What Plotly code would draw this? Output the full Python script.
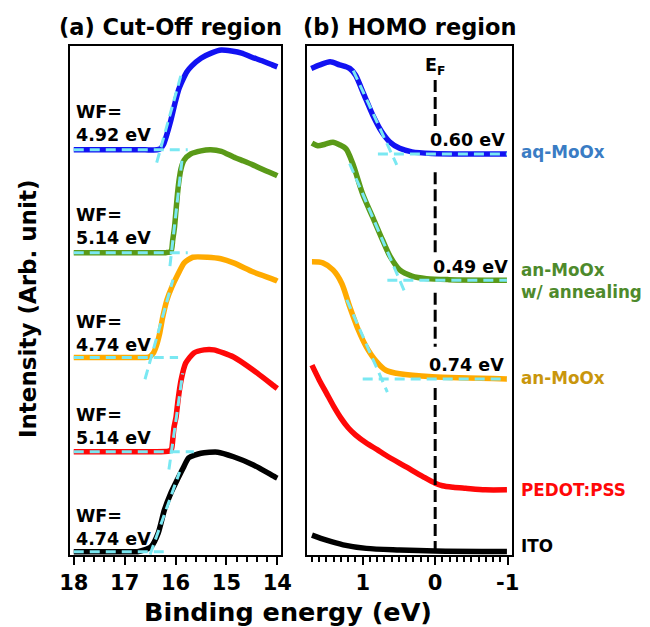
import plotly.graph_objects as go

# ---------------- samples (stacked top to bottom) ----------------
samples = ["aq-MoOx", "an-MoOx<br>w/ annealing", "an-MoOx", "PEDOT:PSS", "ITO"]
line_colors = ["#1212f2", "#5a9a18", "#ffaa00", "#ff0808", "#000000"]
label_colors = ["#3a7cc4", "#4e8a2c", "#c9960c", "#ff0808", "#000000"]
fit_color = "#7ae8f2"

HE_I = 21.22                                  # photon energy (eV)
work_function = [4.92, 5.14, 4.74, 5.14, 4.74]
homo_onset = [0.60, 0.49, 0.74]

# ---------------- (a) secondary-electron cut-off (offset intensity) ----------------
cut_x_aq = [18.0, 17.5, 17.0, 16.6, 16.36, 16.30, 16.24, 16.18, 16.10, 16.02, 15.94, 15.86,
            15.78, 15.68, 15.50, 15.30, 15.10, 14.90, 14.70, 14.50, 14.30, 14.10, 14.00]
cut_y_aq = [79.6, 79.6, 79.6, 79.6, 79.6, 79.8, 80.6, 82.3, 85.1, 88.4, 91.4, 93.3,
            94.9, 96.1, 97.6, 98.6, 99.2, 99.0, 98.6, 97.8, 97.1, 96.3, 95.9]

cut_x_ann = [18.0, 17.5, 17.0, 16.5, 16.19, 16.09, 16.055, 16.02, 15.99, 15.96, 15.93, 15.89,
             15.83, 15.70, 15.50, 15.31, 15.10, 14.86, 14.66, 14.47, 14.25, 14.04, 14.00]
cut_y_ann = [59.4, 59.4, 59.4, 59.4, 59.4, 59.6, 61.9, 64.4, 67.8, 71.1, 73.7, 76.0,
             77.6, 78.8, 79.4, 79.6, 79.3, 78.2, 77.4, 76.6, 75.6, 74.7, 74.5]

cut_x_an = [18.0, 17.5, 17.0, 16.7, 16.52, 16.44, 16.38, 16.31, 16.25, 16.17, 16.07, 15.96,
            15.83, 15.66, 15.37, 15.11, 14.86, 14.47, 14.04, 14.00]
cut_y_an = [38.8, 38.8, 38.8, 38.8, 38.9, 39.6, 41.0, 43.6, 46.8, 50.1, 52.7, 55.0,
            57.4, 58.5, 58.5, 58.2, 57.4, 55.6, 54.0, 53.8]

cut_x_pedot = [18.0, 17.5, 17.0, 16.5, 16.13, 16.08, 16.05, 16.03, 15.99, 15.95, 15.89, 15.80,
               15.64, 15.44, 15.25, 14.86, 14.47, 14.04, 14.00]
cut_y_pedot = [20.3, 20.3, 20.3, 20.3, 20.4, 20.8, 23.2, 25.1, 27.1, 30.5, 34.4, 37.7,
               39.7, 40.3, 40.3, 38.9, 36.3, 33.0, 32.7]

cut_x_ito = [18.0, 17.5, 17.0, 16.75, 16.61, 16.48, 16.34, 16.22, 16.09, 15.95, 15.85, 15.74,
             15.50, 15.17, 14.86, 14.47, 14.04, 14.00]
cut_y_ito = [0.65, 0.65, 0.65, 0.65, 1.0, 1.6, 4.3, 8.8, 12.2, 15.1, 17.1, 19.1,
             20.0, 20.2, 19.3, 17.7, 15.3, 15.1]

cut_x = [cut_x_aq, cut_x_ann, cut_x_an, cut_x_pedot, cut_x_ito]
cut_y = [cut_y_aq, cut_y_ann, cut_y_an, cut_y_pedot, cut_y_ito]

# linear fits of the cut-off edge: slope (a.u./eV), span of tangent, end of baseline fit
cut_fit_slope = [36.0, 88.0, 35.6, 70.0, 28.0]
cut_fit_span = [(16.37, 15.88), (16.11, 15.87), (16.60, 16.05), (16.13, 15.86), (16.50, 15.92)]
cut_base_end = [15.76, 15.76, 15.95, 15.64, 16.13]

# ---------------- (b) HOMO region (offset intensity) ----------------
homo_x_aq = [1.71, 1.59, 1.45, 1.32, 1.18, 1.10, 0.99, 0.86, 0.74, 0.63, 0.49, 0.32, 0.04, -0.50, -0.99]
homo_y_aq = [95.6, 96.3, 96.9, 96.3, 95.6, 94.3, 90.7, 86.4, 83.2, 81.2, 79.9, 79.2, 78.9, 78.8, 78.8]

homo_x_ann = [1.70, 1.62, 1.52, 1.41, 1.32, 1.23, 1.14, 1.00, 0.86, 0.73, 0.62, 0.49, 0.32, 0.12, -0.19, -0.99]
homo_y_ann = [80.9, 80.4, 80.7, 81.1, 80.6, 79.8, 77.0, 70.9, 66.3, 62.0, 58.6, 56.0, 54.8, 54.3, 54.1, 54.0]

homo_x_an = [1.70, 1.55, 1.41, 1.29, 1.18, 1.06, 0.95, 0.81, 0.68, 0.49, 0.04, -0.99]
homo_y_an = [57.6, 57.4, 56.0, 53.4, 48.8, 44.2, 40.9, 38.0, 36.3, 35.6, 35.0, 34.6]

homo_x_pedot = [1.70, 1.60, 1.50, 1.40, 1.30, 1.20, 1.10, 0.95, 0.80, 0.68, 0.40, 0.17, 0.00,
                -0.10, -0.25, -0.42, -0.69, -0.99]
homo_y_pedot = [37.3, 34.4, 31.8, 29.2, 26.9, 25.0, 23.6, 22.0, 20.7, 19.6, 17.3, 15.4, 14.1,
                13.6, 13.3, 13.1, 12.8, 12.8]

homo_x_ito = [1.70, 1.50, 1.27, 0.95, 0.49, 0.00, -0.99]
homo_y_ito = [3.9, 2.9, 2.0, 1.3, 1.0, 0.8, 0.7]

homo_x = [homo_x_aq, homo_x_ann, homo_x_an, homo_x_pedot, homo_x_ito]
homo_y = [homo_y_aq, homo_y_ann, homo_y_an, homo_y_pedot, homo_y_ito]

homo_fit_slope = [30.9, 33.2, 32.4]
homo_fit_span = [(1.13, 0.53), (1.18, 0.40), (1.22, 0.66)]
homo_base_start = [0.79, 0.66, 1.00]

# Fermi level marker: vertical extent, interrupted behind the onset labels
ef_top = 93.3
ef_gaps = [(84.3, 75.2), (59.3, 51.5), (40.9, 32.8)]

# label placement (offset intensity units / paper fractions)
wf_label_y = [84.7, 64.6, 43.6, 25.3, 5.4]
onset_label_x = [-0.45, -0.49, -0.43]
onset_label_y = [81.5, 56.6, 37.3]
side_label_y = [0.7576, 0.5518, 0.3971, 0.2185, 0.1292]

FONT = "DejaVu Sans"
fig = go.Figure()

# ---- panel (a) ----
for i in range(5):
    fig.add_trace(go.Scatter(x=cut_x[i], y=cut_y[i], mode="lines", xaxis="x", yaxis="y",
                             line=dict(color=line_colors[i], width=5.5, shape="spline", smoothing=0.6),
                             showlegend=False, hoverinfo="skip"))
for i in range(5):
    cut = HE_I - work_function[i]
    base = cut_y[i][0]
    fig.add_trace(go.Scatter(x=[cut_x[i][0], cut_base_end[i]], y=[base, base], mode="lines",
                             xaxis="x", yaxis="y", line=dict(color=fit_color, width=3, dash="10px,6px"),
                             showlegend=False, hoverinfo="skip"))
    xt = list(cut_fit_span[i])
    yt = [base + cut_fit_slope[i] * (cut - x) for x in xt]
    fig.add_trace(go.Scatter(x=xt, y=yt, mode="lines", xaxis="x", yaxis="y",
                             line=dict(color=fit_color, width=3, dash="10px,6px"),
                             showlegend=False, hoverinfo="skip"))

# ---- panel (b) ----
for i in range(5):
    fig.add_trace(go.Scatter(x=homo_x[i], y=homo_y[i], mode="lines", xaxis="x2", yaxis="y2",
                             line=dict(color=line_colors[i], width=5.5, shape="spline", smoothing=0.8),
                             showlegend=False, hoverinfo="skip"))
for i in range(3):
    base = homo_y[i][-1]
    fig.add_trace(go.Scatter(x=[homo_base_start[i], homo_x[i][-1]], y=[base, base], mode="lines",
                             xaxis="x2", yaxis="y2", line=dict(color=fit_color, width=3, dash="10px,6px"),
                             showlegend=False, hoverinfo="skip"))
    xt = list(homo_fit_span[i])
    yt = [base + homo_fit_slope[i] * (x - homo_onset[i]) for x in xt]
    fig.add_trace(go.Scatter(x=xt, y=yt, mode="lines", xaxis="x2", yaxis="y2",
                             line=dict(color=fit_color, width=3, dash="10px,6px"),
                             showlegend=False, hoverinfo="skip"))

ef_x, ef_y = [], []
top = ef_top
for g_top, g_bot in ef_gaps:
    ef_x += [0, 0, None]
    ef_y += [top, g_top, None]
    top = g_bot
ef_x += [0, 0]
ef_y += [top, 0]
fig.add_trace(go.Scatter(x=ef_x, y=ef_y, mode="lines", xaxis="x2", yaxis="y2",
                         line=dict(color="black", width=3, dash="12px,5px"),
                         showlegend=False, hoverinfo="skip", connectgaps=False))

# ---- annotations ----
ann = []


def bold(size, color="black"):
    return dict(family=FONT, size=size, color=color, weight="bold")


for i in range(5):
    ann.append(dict(x=18.0, y=wf_label_y[i], xref="x", yref="y", xanchor="left", yanchor="middle",
                    align="left", showarrow=False, text=f"WF=<br>{work_function[i]:.2f} eV",
                    font=bold(17.5)))
for i in range(3):
    ann.append(dict(x=onset_label_x[i], y=onset_label_y[i], xref="x2", yref="y2",
                    xanchor="center", yanchor="middle", showarrow=False,
                    text=f"{homo_onset[i]:.2f} eV", font=bold(17.5)))
ann.append(dict(x=0, y=95.9, xref="x2", yref="y2", xanchor="center", yanchor="middle",
                showarrow=False, text="E<sub>F</sub>", font=bold(17.5)))
for i in range(5):
    ann.append(dict(x=0.8095, y=side_label_y[i], xref="paper", yref="paper",
                    xanchor="left", yanchor="middle", align="left", showarrow=False,
                    text=samples[i], font=bold(16.8, label_colors[i])))

ann.append(dict(x=0.2533, y=1 - 27 / 627, xref="paper", yref="paper", showarrow=False,
                xanchor="center", yanchor="middle", text="(a) Cut-Off region", font=bold(22.5)))
ann.append(dict(x=0.6352, y=1 - 27 / 627, xref="paper", yref="paper", showarrow=False,
                xanchor="center", yanchor="middle", text="(b) HOMO region", font=bold(22.5)))
ann.append(dict(x=0.4415, y=1 - 612 / 627, xref="paper", yref="paper", showarrow=False,
                xanchor="center", yanchor="middle", text="Binding energy (eV)", font=bold(25.5)))
ann.append(dict(x=0.0272, y=1 - 309 / 627, xref="paper", yref="paper", showarrow=False,
                xanchor="center", yanchor="middle", textangle=-90,
                text="Intensity (Arb. unit)", font=bold(23)))

axis_common = dict(showline=True, linecolor="black", linewidth=2, mirror=True,
                   showgrid=False, zeroline=False, ticks="outside", ticklen=8, tickwidth=2,
                   tickcolor="black", tickfont=bold(21))
y_common = dict(showline=True, linecolor="black", linewidth=2, mirror=True, showgrid=False,
                zeroline=False, showticklabels=False, ticks="", range=[0, 100],
                domain=[1 - 555 / 627, 1 - 46 / 627])

fig.update_layout(
    width=650, height=627, margin=dict(l=0, r=0, t=0, b=0),
    paper_bgcolor="white", plot_bgcolor="white",
    xaxis=dict(**axis_common, domain=[0.0936, 0.4304], range=[18.078, 13.922],
               tickvals=[18, 17, 16, 15, 14], anchor="y",
               minor=dict(ticks="outside", tick0=14, dtick=0.2, ticklen=5, tickwidth=2, tickcolor="black")),
    yaxis=dict(**y_common, anchor="x"),
    xaxis2=dict(**axis_common, domain=[0.4715, 0.7972], range=[1.767, -1.055],
                tickvals=[1, 0, -1], ticktext=["1", "0", "-1"], anchor="y2",
                minor=dict(ticks="outside", tick0=0, dtick=0.1, ticklen=5, tickwidth=2, tickcolor="black")),
    yaxis2=dict(**y_common, anchor="x2"),
    annotations=ann,
)

fig.write_html("out.html")
